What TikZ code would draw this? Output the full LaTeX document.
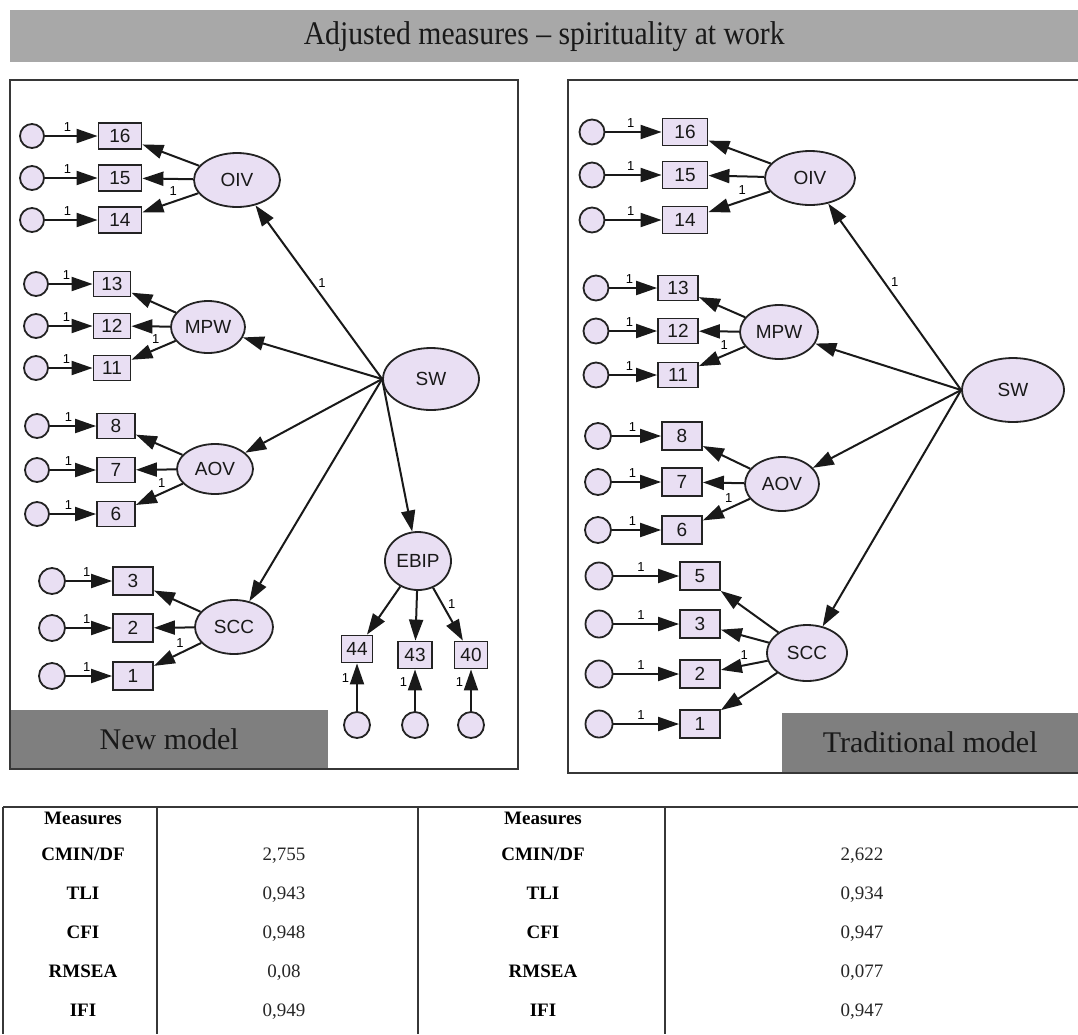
\documentclass[tikz,border=0pt]{standalone}
\usepackage{fontspec}
\setmainfont{Liberation Serif}
\newfontfamily\amosfont{Liberation Sans}
\newfontfamily\titlefont[FakeStretch=0.9]{Liberation Serif}
\usetikzlibrary{shapes.geometric,arrows.meta}
\definecolor{lav}{RGB}{233,223,243}
\definecolor{ink}{RGB}{35,35,35}
\definecolor{titlegray}{RGB}{168,168,168}
\definecolor{labelgray}{RGB}{127,127,127}
\definecolor{rulegray}{RGB}{55,55,55}
\begin{document}
\begin{tikzpicture}[x=1pt,y=-1pt,
  lat/.style={ellipse,draw=ink,line width=1.8pt,fill=lav,inner sep=0pt,
    font=\amosfont\fontsize{19}{19}\selectfont,text=black!90},
  obs/.style={rectangle,draw=ink,line width=1.8pt,fill=lav,inner sep=0pt,
    minimum width=40pt,minimum height=26pt,
    font=\amosfont\fontsize{19}{19}\selectfont,text=black!90},
  err/.style={circle,draw=ink,line width=1.8pt,fill=lav,inner sep=0pt,minimum size=25pt},
  arr/.style={draw=black!90,line width=2pt,-{Triangle[length=21pt,width=14pt]}},
  wt/.style={font=\amosfont\fontsize{13}{13}\selectfont,inner sep=0pt,text=black},
  panel/.style={draw=rulegray,line width=1.8pt},
  tabrule/.style={draw=rulegray,line width=1.8pt},
  modellabel/.style={fill=labelgray,inner sep=0pt,anchor=north west,
    font=\fontsize{30}{30}\selectfont,text=black!90},
  tabhead/.style={font=\bfseries\fontsize{19}{19}\selectfont,inner sep=0pt,
    text height=13pt,text depth=4pt,text=black},
  tabval/.style={font=\fontsize{19}{19}\selectfont,inner sep=0pt,
    text height=13pt,text depth=4pt,text=black!85}
]
\useasboundingbox (0,0) rectangle (1078,1034);

% ---------- title bar ----------
\node[fill=titlegray,inner sep=0pt,anchor=north west,minimum width=1068pt,minimum height=52pt,
  font=\titlefont\fontsize{33}{33}\selectfont,text=black!90] (title) at (10,10)
  {Adjusted measures – spirituality at work};

% ---------- New model ----------
\node[modellabel,minimum width=318pt,minimum height=59pt] (newlbl) at (10,710) {New model};

% OIV block
\node[lat,minimum width=86pt,minimum height=54pt] (LOIV) at (237,180) {OIV};
\foreach \n/\y in {16/136,15/178,14/220} {
  \node[obs,minimum width=43pt] (L\n) at (120,\y) {\n};
  \node[err,minimum size=24pt] (Le\n) at (32,\y) {};
  \draw[arr] (Le\n) -- node[wt,pos=0.43,above=4pt] (Lw\n) {1} (L\n);
}
\draw[arr] (LOIV) -- (L16);
\draw[arr] (LOIV) -- (L15);
\draw[arr] (LOIV) -- node[wt,pos=0.45,above=5pt] (LwOIV) {1} (L14);

% MPW block
\node[lat,minimum width=74pt,minimum height=52pt] (LMPW) at (208,327) {MPW};
\foreach \n/\y in {13/284,12/326,11/368} {
  \node[obs,minimum width=37pt,minimum height=25pt] (L\n) at (112,\y) {\n};
  \node[err,minimum size=24pt] (Le\n) at (36,\y) {};
  \draw[arr] (Le\n) -- node[wt,pos=0.4,above=4pt] (Lw\n) {1} (L\n);
}
\draw[arr] (LMPW) -- (L13);
\draw[arr] (LMPW) -- (L12);
\draw[arr] (LMPW) -- node[wt,pos=0.45,above=5pt] (LwMPW) {1} (L11);

% AOV block
\node[lat,minimum width=76pt,minimum height=50pt] (LAOV) at (215,469) {AOV};
\foreach \n/\y in {8/426,7/470,6/514} {
  \node[obs,minimum width=38pt,minimum height=25pt] (L\n) at (116,\y) {\n};
  \node[err,minimum size=24pt] (Le\n) at (37,\y) {};
  \draw[arr] (Le\n) -- node[wt,pos=0.4,above=4pt] (Lw\n) {1} (L\n);
}
\draw[arr] (LAOV) -- (L8);
\draw[arr] (LAOV) -- (L7);
\draw[arr] (LAOV) -- node[wt,pos=0.45,above=5pt] (LwAOV) {1} (L6);

% SCC block
\node[lat,minimum width=78pt,minimum height=54pt] (LSCC) at (234,627) {SCC};
\foreach \n/\y in {3/581,2/628,1/676} {
  \node[obs,minimum width=40pt,minimum height=28pt] (L\n) at (133,\y) {\n};
  \node[err,minimum size=26pt] (Le\n) at (52,\y) {};
  \draw[arr] (Le\n) -- node[wt,pos=0.45,above=4pt] (Lw\n) {1} (L\n);
}
\draw[arr] (LSCC) -- (L3);
\draw[arr] (LSCC) -- (L2);
\draw[arr] (LSCC) -- node[wt,pos=0.45,above=5pt] (LwSCC) {1} (L1);

% EBIP block
\node[lat,minimum width=66pt,minimum height=58pt] (LEBIP) at (418,561) {EBIP};
\foreach \n/\x/\y/\w in {44/357/649/31,43/415/655/34,40/471/655/33} {
  \node[obs,minimum width=\w pt,minimum height=27pt] (L\n) at (\x,\y) {\n};
  \node[err,minimum size=26pt] (Le\n) at (\x,725) {};
  \draw[arr] (Le\n) -- node[wt,pos=0.7,left=7pt] (Lw\n) {1} (L\n);
}
\draw[arr] (LEBIP) -- (L44);
\draw[arr] (LEBIP) -- (L43);
\draw[arr] (LEBIP) -- node[wt,pos=0.3,right=5pt] (LwEBIP) {1} (L40);

% second-order factor
\node[lat,minimum width=96pt,minimum height=62pt] (LSW) at (431,379) {SW};
\draw[arr] (LSW.west) -- node[wt,pos=0.55,right=5pt] (LwSW) {1} (LOIV);
\draw[arr] (LSW.west) -- (LMPW);
\draw[arr] (LSW.west) -- (LAOV);
\draw[arr] (LSW.west) -- (LSCC);
\draw[arr] (LSW.west) -- (LEBIP);

\draw[panel] (10,80) rectangle (518,769);

% ---------- Traditional model ----------
\node[modellabel,minimum width=296pt,minimum height=59pt] (tradlbl) at (782,713) {Traditional model};

% OIV block
\node[lat,minimum width=90pt,minimum height=54pt] (ROIV) at (810,178) {OIV};
\foreach \n/\y in {16/132,15/175,14/220} {
  \node[obs,minimum width=45pt,minimum height=27pt] (R\n) at (685,\y) {\n};
  \node[err,minimum size=25pt] (Re\n) at (592,\y) {};
  \draw[arr] (Re\n) -- node[wt,pos=0.45,above=4pt] (Rw\n) {1} (R\n);
}
\draw[arr] (ROIV) -- (R16);
\draw[arr] (ROIV) -- (R15);
\draw[arr] (ROIV) -- node[wt,pos=0.45,above=5pt] (RwOIV) {1} (R14);

% MPW block
\node[lat,minimum width=78pt,minimum height=54pt] (RMPW) at (779,332) {MPW};
\foreach \n/\y in {13/288,12/331,11/375} {
  \node[obs,minimum width=40pt,minimum height=25pt] (R\n) at (678,\y) {\n};
  \node[err,minimum size=25pt] (Re\n) at (596,\y) {};
  \draw[arr] (Re\n) -- node[wt,pos=0.42,above=4pt] (Rw\n) {1} (R\n);
}
\draw[arr] (RMPW) -- (R13);
\draw[arr] (RMPW) -- (R12);
\draw[arr] (RMPW) -- node[wt,pos=0.45,above=5pt] (RwMPW) {1} (R11);

% AOV block
\node[lat,minimum width=74pt,minimum height=54pt] (RAOV) at (782,484) {AOV};
\foreach \n/\y in {8/436,7/482,6/530} {
  \node[obs,minimum width=40pt,minimum height=28pt] (R\n) at (682,\y) {\n};
  \node[err,minimum size=26pt] (Re\n) at (598,\y) {};
  \draw[arr] (Re\n) -- node[wt,pos=0.42,above=4pt] (Rw\n) {1} (R\n);
}
\draw[arr] (RAOV) -- (R8);
\draw[arr] (RAOV) -- (R7);
\draw[arr] (RAOV) -- node[wt,pos=0.45,above=5pt] (RwAOV) {1} (R6);

% SCC block
\node[lat,minimum width=80pt,minimum height=56pt] (RSCC) at (807,653) {SCC};
\foreach \n/\y in {5/576,3/624,2/674,1/724} {
  \node[obs,minimum width=40pt,minimum height=28pt] (R\n) at (700,\y) {\n};
  \node[err,minimum size=27pt] (Re\n) at (599,\y) {};
  \draw[arr] (Re\n) -- node[wt,pos=0.42,above=4pt] (Rw\n) {1} (R\n);
}
\draw[arr] (RSCC) -- (R5);
\draw[arr] (RSCC) -- (R3);
\draw[arr] (RSCC) -- node[wt,pos=0.5,above=5pt] (RwSCC) {1} (R2);
\draw[arr] (RSCC) -- (R1);

% second-order factor
\node[lat,minimum width=102pt,minimum height=64pt] (RSW) at (1013,390) {SW};
\draw[arr] (RSW.west) -- node[wt,pos=0.58,right=6pt] (RwSW) {1} (ROIV);
\draw[arr] (RSW.west) -- (RMPW);
\draw[arr] (RSW.west) -- (RAOV);
\draw[arr] (RSW.west) -- (RSCC);

\draw[panel] (1078,80) -- (568,80) -- (568,773) -- (1078,773);

% ---------- fit table ----------
\draw[tabrule] (3,807) -- (1078,807);
\foreach \x in {3,157,418,665} \draw[tabrule] (\x,807) -- (\x,1034);

\node[tabhead] (hA) at (83,820) {Measures};
\node[tabhead] (hB) at (543,820) {Measures};
\foreach \k/\lab/\y/\va/\vb in {1/CMIN\slash DF/856/{2,755}/{2,622},
                               2/TLI/895/{0,943}/{0,934},
                               3/CFI/934/{0,948}/{0,947},
                               4/RMSEA/973/{0,08}/{0,077},
                               5/IFI/1012/{0,949}/{0,947}} {
  \node[tabhead] (mA\k) at (83,\y) {\lab};
  \node[tabval]  (vA\k) at (284,\y) {\va};
  \node[tabhead] (mB\k) at (543,\y) {\lab};
  \node[tabval]  (vB\k) at (862,\y) {\vb};
}
\end{tikzpicture}
\end{document}
